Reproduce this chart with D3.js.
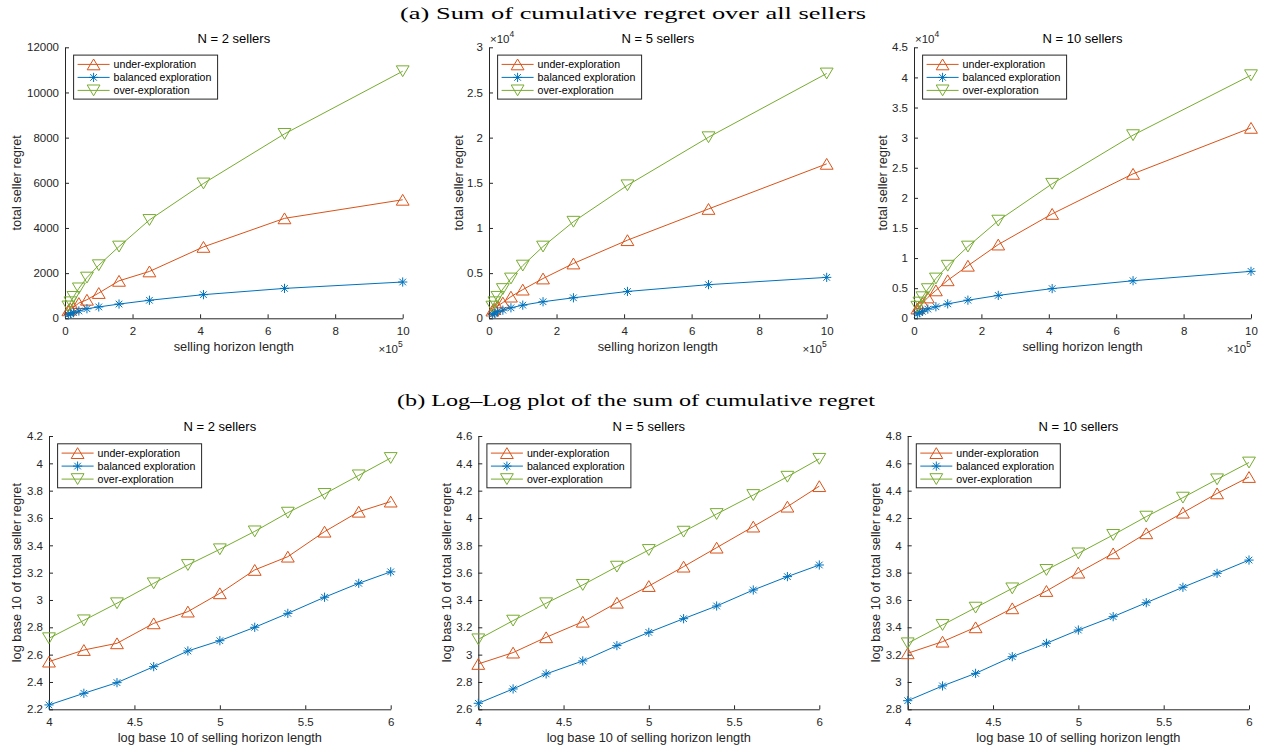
<!DOCTYPE html>
<html><head><meta charset="utf-8">
<script src="https://cdn.jsdelivr.net/npm/d3@7"></script>
<style>body{margin:0;background:#fff}svg{display:block}</style>
</head><body>
<svg id="c" width="1263" height="749"></svg>
<script>
// ---------------- data ----------------
const horizon = [10000, 16000, 25000, 41000, 65000, 100000, 160000, 250000, 410000, 650000, 1000000];
const seriesNames = ["under-exploration", "balanced exploration", "over-exploration"];
const sellerCounts = [2, 5, 10];

// log10 of total seller regret
const logRegretN2Under    = [2.549, 2.634, 2.683, 2.829, 2.915, 3.049, 3.220, 3.317, 3.500, 3.646, 3.720];
const logRegretN2Balanced = [2.232, 2.317, 2.395, 2.512, 2.627, 2.702, 2.800, 2.902, 3.020, 3.122, 3.206];
const logRegretN2Over     = [2.720, 2.851, 2.976, 3.122, 3.256, 3.371, 3.502, 3.639, 3.776, 3.912, 4.039];

const logRegretN5Under    = [2.932, 3.015, 3.127, 3.241, 3.380, 3.502, 3.644, 3.783, 3.937, 4.083, 4.233];
const logRegretN5Balanced = [2.644, 2.749, 2.859, 2.954, 3.066, 3.163, 3.263, 3.356, 3.473, 3.571, 3.656];
const logRegretN5Over     = [3.112, 3.249, 3.376, 3.510, 3.644, 3.766, 3.900, 4.029, 4.168, 4.302, 4.433];

const logRegretN10Under    = [3.210, 3.295, 3.400, 3.539, 3.666, 3.800, 3.941, 4.088, 4.239, 4.380, 4.500];
const logRegretN10Balanced = [2.863, 2.971, 3.063, 3.185, 3.283, 3.380, 3.478, 3.580, 3.693, 3.795, 3.892];
const logRegretN10Over     = [3.283, 3.417, 3.544, 3.685, 3.820, 3.941, 4.076, 4.210, 4.349, 4.483, 4.606];

// ticks
const linearXTicks = [0, 200000, 400000, 600000, 800000, 1000000];
const linearYTicksN2 = [0, 2000, 4000, 6000, 8000, 10000, 12000];
const linearYTicksN5 = [0, 5000, 10000, 15000, 20000, 25000, 30000];
const linearYTicksN10 = [0, 5000, 10000, 15000, 20000, 25000, 30000, 35000, 40000, 45000];
const logXTicks = [4, 4.5, 5, 5.5, 6];
const logYTicksN2 = [2.2, 2.4, 2.6, 2.8, 3, 3.2, 3.4, 3.6, 3.8, 4, 4.2];
const logYTicksN5 = [2.6, 2.8, 3, 3.2, 3.4, 3.6, 3.8, 4, 4.2, 4.4, 4.6];
const logYTicksN10 = [2.8, 3, 3.2, 3.4, 3.6, 3.8, 4, 4.2, 4.4, 4.6, 4.8];

const titleA = "(a) Sum of cumulative regret over all sellers";
const titleB = "(b) Log\u2013Log plot of the sum of cumulative regret";

// ---------------- drawing ----------------
const svg = d3.select("#c");
const SANS = "'Liberation Sans', Arial, sans-serif";
const SERIF = "'Liberation Serif', 'DejaVu Serif', serif";
const AX = "#262626";
const colors = ["#D95319", "#0072BD", "#77AC30"];
const markerKinds = ["up", "star", "down"];

const logData = {
  2: [logRegretN2Under, logRegretN2Balanced, logRegretN2Over],
  5: [logRegretN5Under, logRegretN5Balanced, logRegretN5Over],
  10: [logRegretN10Under, logRegretN10Balanced, logRegretN10Over]
};
const linYTicks = {2: linearYTicksN2, 5: linearYTicksN5, 10: linearYTicksN10};
const logYTicks = {2: logYTicksN2, 5: logYTicksN5, 10: logYTicksN10};

const fmt = d3.format("~g");

function markerPath(kind) {
  const w = 6.4, h = 5.4, r = 4.6, d = r * 0.72;
  if (kind === "up") return `M0,${-h}L${w},${h}L${-w},${h}Z`;
  if (kind === "down") return `M0,${h}L${w},${-h}L${-w},${-h}Z`;
  return `M0,${-r}V${r}M${-r},0H${r}M${-d},${-d}L${d},${d}M${-d},${d}L${d},${-d}`;
}

function drawMarkers(g, pts, kind, color) {
  g.selectAll(null).data(pts).enter().append("path")
    .attr("transform", p => `translate(${p[0]},${p[1]})`)
    .attr("d", markerPath(kind))
    .attr("fill", "none").attr("stroke", color).attr("stroke-width", 1);
}

function drawLegend(g, x, y) {
  const lg = g.append("g").attr("transform", `translate(${x},${y})`);
  lg.append("rect").attr("x", 0).attr("y", 0).attr("width", 144).attr("height", 44)
    .attr("fill", "#fff").attr("stroke", AX).attr("stroke-width", 1);
  seriesNames.forEach((name, i) => {
    const yy = 9.3 + i * 13;
    lg.append("line").attr("x1", 4).attr("x2", 36).attr("y1", yy).attr("y2", yy)
      .attr("stroke", colors[i]).attr("stroke-width", 1);
    drawMarkers(lg, [[20, yy]], markerKinds[i], colors[i]);
    lg.append("text").attr("x", 40).attr("y", yy).attr("dy", "0.35em")
      .attr("font-family", SANS).attr("font-size", 10.6).attr("fill", "#000").text(name);
  });
}

function drawPanel(cfg) {
  const g = svg.append("g");
  const {x0, x1, y0, y1, n, log} = cfg;
  let xs, ys, pts, xTicks, yTicks, yFmt;
  if (log) {
    yTicks = logYTicks[n];
    xs = d3.scaleLinear().domain([4, 6]).range([x0, x1]);
    ys = d3.scaleLinear().domain([yTicks[0], yTicks[yTicks.length - 1]]).range([y1, y0]);
    xTicks = logXTicks;
    yFmt = fmt;
  } else {
    yTicks = linYTicks[n];
    xs = d3.scaleLinear().domain([0, 1000000]).range([x0, x1]);
    ys = d3.scaleLinear().domain([0, yTicks[yTicks.length - 1]]).range([y1, y0]);
    xTicks = linearXTicks;
    yFmt = n === 2 ? d3.format("d") : (d => fmt(d / 1e4));
  }
  const xAxis = d3.axisBottom(xs).tickValues(xTicks).tickSizeInner(-4).tickSizeOuter(0).tickPadding(6)
    .tickFormat(log ? fmt : (d => fmt(d / 1e5)));
  const yAxis = d3.axisLeft(ys).tickValues(yTicks).tickSizeInner(-4).tickSizeOuter(0).tickPadding(6)
    .tickFormat(yFmt);
  const gx = g.append("g").attr("transform", `translate(0,${y1})`).call(xAxis);
  const gy = g.append("g").attr("transform", `translate(${x0},0)`).call(yAxis);
  [gx, gy].forEach(a => {
    a.selectAll("path,line").attr("stroke", AX).attr("stroke-width", 1);
    a.selectAll("text").attr("fill", AX).attr("font-family", SANS).attr("font-size", 11.5);
  });
  gx.selectAll("text").attr("dy", "0.9em");

  // series
  logData[n].forEach((arr, i) => {
    pts = arr.map((v, j) => log ? [xs(Math.log10(horizon[j])), ys(v)] : [xs(horizon[j]), ys(Math.pow(10, v))]);
    g.append("path").attr("d", d3.line()(pts)).attr("fill", "none")
      .attr("stroke", colors[i]).attr("stroke-width", 1);
    drawMarkers(g, pts, markerKinds[i], colors[i]);
  });

  // title
  g.append("text").attr("x", (x0 + x1) / 2).attr("y", y0 - (log ? 5 : 4.6)).attr("text-anchor", "middle")
    .attr("font-family", SANS).attr("font-size", 13).attr("fill", "#000")
    .text(`N = ${n} sellers`);
  // x label
  g.append("text").attr("x", (x0 + x1) / 2).attr("y", y1 + 28.5).attr("dy", "0.35em")
    .attr("text-anchor", "middle").attr("font-family", SANS).attr("font-size", 12.8).attr("fill", AX)
    .text(log ? "log base 10 of selling horizon length" : "selling horizon length");
  // y label
  const lx = cfg.labelX;
  g.append("text").attr("transform", `translate(${lx},${(y0 + y1) / 2}) rotate(-90)`)
    .attr("dy", "0.35em").attr("text-anchor", "middle").attr("font-family", SANS)
    .attr("font-size", 12.8).attr("fill", AX)
    .text(log ? "log base 10 of total seller regret" : "total seller regret");

  if (!log) {
    // x exponent
    const ex = g.append("text").attr("x", x1).attr("y", y1 + 35).attr("text-anchor", "end")
      .attr("font-family", SANS).attr("font-size", 11.5).attr("fill", AX);
    ex.append("tspan").text("\u00d710");
    ex.append("tspan").attr("dy", -6).attr("font-size", 8.5).text("5");
    if (n !== 2) {
      const ey = g.append("text").attr("x", x0 + 1).attr("y", y0 - 4).attr("text-anchor", "start")
        .attr("font-family", SANS).attr("font-size", 11.5).attr("fill", AX);
      ey.append("tspan").text("\u00d710");
      ey.append("tspan").attr("dy", -6).attr("font-size", 8.5).text("4");
    }
  }
  drawLegend(g, x0 + 8.6, y0 + 7.8);
}

const topRow = [
  {x0: 65, x1: 402.7, labelX: 17},
  {x0: 489, x1: 826.7, labelX: 458.3},
  {x0: 914, x1: 1251, labelX: 882.7}
];
const botRow = [
  {x0: 49, x1: 390.7, labelX: 16.7},
  {x0: 478.3, x1: 819.3, labelX: 446.7},
  {x0: 907.7, x1: 1249, labelX: 876}
];
sellerCounts.forEach((n, i) => {
  drawPanel(Object.assign({n, log: false, y0: 47.3, y1: 318.3}, topRow[i]));
  drawPanel(Object.assign({n, log: true, y0: 436, y1: 709.3}, botRow[i]));
});

svg.append("text").attr("x", 633).attr("y", 18.5).attr("text-anchor", "middle")
  .attr("font-family", SERIF).attr("font-size", 17.5).attr("fill", "#000")
  .attr("textLength", 466).attr("lengthAdjust", "spacingAndGlyphs").text(titleA);
svg.append("text").attr("x", 636).attr("y", 405.5).attr("text-anchor", "middle")
  .attr("font-family", SERIF).attr("font-size", 17.5).attr("fill", "#000")
  .attr("textLength", 478).attr("lengthAdjust", "spacingAndGlyphs").text(titleB);
</script>
</body></html>
